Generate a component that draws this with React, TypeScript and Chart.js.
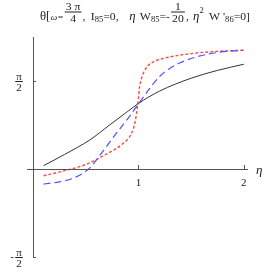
import React, { useEffect, useRef } from "react";
import { Chart, registerables } from "chart.js";

Chart.register(...registerables);

const PI = Math.PI;

const blackEta = [0.1, 0.3, 0.54, 0.73, 0.9, 1.0, 1.2, 1.5, 1.75, 2.0];
const blackTheta = [0.06, 0.26, 0.52, 0.79, 1.03, 1.17, 1.39, 1.62, 1.76, 1.87];

const redEta = [0.1, 0.3, 0.5, 0.7, 0.85, 0.93, 0.97, 0.99, 1.0, 1.01, 1.03, 1.08, 1.15, 1.25, 1.5, 1.75, 2.0];
const redTheta = [-0.12, -0.03, 0.08, 0.27, 0.45, 0.62, 0.85, 1.1, 1.25, 1.45, 1.62, 1.82, 1.92, 1.98, 2.06, 2.1, 2.12];

const blueEta = [0.1, 0.25, 0.4, 0.54, 0.62, 0.7, 0.8, 0.9, 1.0, 1.1, 1.2, 1.3, 1.4, 1.55, 1.75, 2.0];
const blueTheta = [-0.27, -0.23, -0.15, 0.02, 0.21, 0.41, 0.66, 0.9, 1.16, 1.42, 1.65, 1.8, 1.9, 2.0, 2.08, 2.12];

const xTicks = [1, 2];
const xTickLabels = ["1", "2"];
const yTicks = [PI / 2, -PI / 2];
const yTickSigns = ["", "-"];

type Piece = { t?: string; s?: number; i?: boolean; dy?: number; gap?: number; num?: string; den?: string };
const titlePieces: Piece[] = [
  { t: "θ[", s: 12 },
  { t: "ω=", s: 9, i: true },
  { num: "3 π", den: "4" },
  { t: ",", s: 11 },
  { gap: 5 },
  { t: "I", s: 11 },
  { t: "85", s: 8, dy: 2 },
  { t: "=0,", s: 11 },
  { gap: 10 },
  { t: "η", s: 12, i: true },
  { gap: 4 },
  { t: "W", s: 11 },
  { t: "85", s: 8, dy: 2 },
  { t: "=-", s: 11 },
  { num: "1", den: "20" },
  { t: ",", s: 11 },
  { gap: 4 },
  { t: "η", s: 12, i: true },
  { t: "2", s: 8, dy: -7 },
  { gap: 5 },
  { t: "W '", s: 11 },
  { t: "86", s: 8, dy: 2 },
  { t: "=0]", s: 11 },
];

const toPts = (xs: number[], ys: number[]) => xs.map((x, i) => ({ x, y: ys[i] }));

const SERIF = "'Liberation Serif', 'DejaVu Serif', serif";

const decorPlugin = {
  id: "decor",
  afterDraw(chart: any) {
    const ctx = chart.ctx as CanvasRenderingContext2D;
    const xs = chart.scales.x;
    const ys = chart.scales.y;
    const x0 = xs.getPixelForValue(0);
    const y0 = ys.getPixelForValue(0);
    const xEnd = xs.getPixelForValue(xs.max);
    const yTop = ys.getPixelForValue(ys.max);
    const yBot = ys.getPixelForValue(ys.min);
    ctx.save();
    ctx.strokeStyle = "#555";
    ctx.lineWidth = 1;
    ctx.beginPath();
    ctx.moveTo(x0 - 6, Math.round(y0) + 0.5);
    ctx.lineTo(xEnd, Math.round(y0) + 0.5);
    ctx.moveTo(Math.round(x0) + 0.5, yTop);
    ctx.lineTo(Math.round(x0) + 0.5, yBot + 1);
    ctx.stroke();
    ctx.beginPath();
    xTicks.forEach((v) => {
      const px = Math.round(xs.getPixelForValue(v)) + 0.5;
      ctx.moveTo(px, y0 - 4);
      ctx.lineTo(px, y0);
    });
    yTicks.forEach((v) => {
      const py = Math.round(ys.getPixelForValue(v)) + 0.5;
      ctx.moveTo(x0, py);
      ctx.lineTo(x0 + 3, py);
    });
    ctx.stroke();

    ctx.fillStyle = "#222";
    ctx.textBaseline = "alphabetic";
    ctx.font = `11px ${SERIF}`;
    ctx.textAlign = "center";
    xTicks.forEach((v, i) => {
      ctx.fillText(xTickLabels[i], xs.getPixelForValue(v), y0 + 17);
    });
    ctx.font = `italic 13px ${SERIF}`;
    ctx.textAlign = "left";
    ctx.fillText("η", xEnd + 8, y0 + 5);

    const frac = (cx: number, cy: number, num: string, den: string, size: number) => {
      ctx.font = `${size}px ${SERIF}`;
      ctx.textAlign = "center";
      const w = Math.max(ctx.measureText(num).width, ctx.measureText(den).width) + 2;
      ctx.fillText(num, cx, cy - 1.5);
      ctx.fillText(den, cx, cy + size - 1);
      ctx.fillRect(cx - w / 2, cy, w, 1);
      return w;
    };
    yTicks.forEach((v, i) => {
      const py = Math.round(ys.getPixelForValue(v));
      frac(19, py, "π", "2", 11);
      if (yTickSigns[i]) {
        ctx.font = `11px ${SERIF}`;
        ctx.textAlign = "center";
        ctx.fillText("-", 12, py + 3);
      }
    });

    // title: sequential layout, squeezed horizontally to the reference span
    const fracW = (p: Piece) => {
      ctx.font = `11px ${SERIF}`;
      return Math.max(ctx.measureText(p.num!).width, ctx.measureText(p.den!).width) + 4;
    };
    const widthOf = (p: Piece) => {
      if (p.gap) return p.gap;
      if (p.num !== undefined) return fracW(p);
      ctx.font = `${p.i ? "italic " : ""}${p.s}px ${SERIF}`;
      return ctx.measureText(p.t!).width;
    };
    const total = titlePieces.reduce((a, p) => a + widthOf(p), 0);
    const startX = 40;
    const endX = 250;
    const base = 20;
    ctx.save();
    ctx.translate(startX, 0);
    ctx.scale((endX - startX) / total, 1);
    let cx = 0;
    titlePieces.forEach((p) => {
      const w = widthOf(p);
      if (p.gap) {
        cx += w;
        return;
      }
      if (p.num !== undefined) {
        frac(cx + w / 2, 11.5, p.num, p.den!, 11);
      } else {
        ctx.font = `${p.i ? "italic " : ""}${p.s}px ${SERIF}`;
        ctx.textAlign = "left";
        ctx.fillText(p.t!, cx, base + (p.dy || 0));
      }
      cx += w;
    });
    ctx.restore();
    ctx.restore();
  },
};

export default function App() {
  const ref = useRef<HTMLCanvasElement>(null);
  useEffect(() => {
    if (!ref.current) return;
    const chart = new Chart(ref.current, {
      type: "line",
      data: {
        datasets: [
          {
            data: toPts(blackEta, blackTheta),
            borderColor: "#333",
            borderWidth: 1,
            pointRadius: 0,
            cubicInterpolationMode: "monotone",
          },
          {
            data: toPts(blueEta, blueTheta),
            borderColor: "#5050ff",
            borderWidth: 1.2,
            borderDash: [7, 4],
            pointRadius: 0,
            cubicInterpolationMode: "monotone",
          },
          {
            data: toPts(redEta, redTheta),
            borderColor: "#ff4a4a",
            borderWidth: 1.4,
            borderDash: [3, 2],
            pointRadius: 0,
            cubicInterpolationMode: "monotone",
          },
        ],
      },
      options: {
        animation: false,
        responsive: false,
        events: [],
        layout: { padding: { left: 33, right: 25, top: 37, bottom: 16 } },
        plugins: { legend: { display: false }, tooltip: { enabled: false }, title: { display: false } },
        scales: {
          x: { type: "linear", min: 0, max: 2.04, display: false },
          y: { type: "linear", min: -PI / 2, max: (3 * PI) / 4, display: false },
        },
      },
      plugins: [decorPlugin],
    });
    return () => chart.destroy();
  }, []);
  return (
    <div style={{ position: "fixed", left: 0, top: 0, width: 273, height: 273, background: "#fff" }}>
      <canvas ref={ref} width={273} height={273} style={{ width: 273, height: 273 }} />
    </div>
  );
}
